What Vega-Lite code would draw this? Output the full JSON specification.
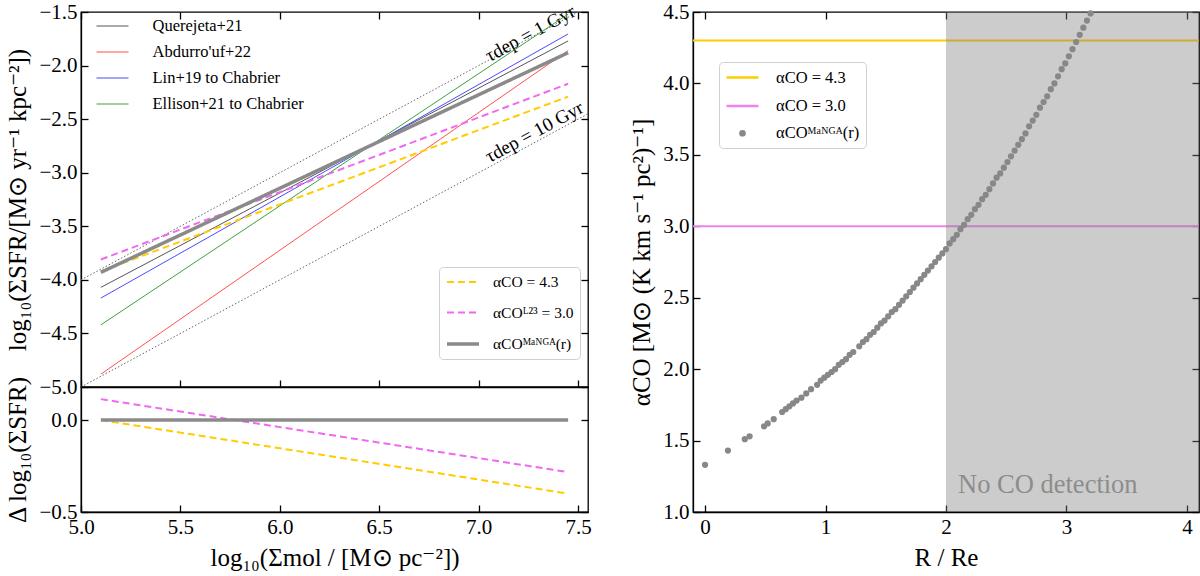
{
  "$schema": "https://vega.github.io/schema/vega-lite/v6.json",
  "background": "white",
  "padding": {"left": 5, "top": 0, "right": 0, "bottom": 0},
  "datasets": {
    "tau": [
      {"x": 5.0, "y": -4.0, "tau": "1 Gyr"},
      {"x": 7.55, "y": -1.45, "tau": "1 Gyr"},
      {"x": 5.0, "y": -5.0, "tau": "10 Gyr"},
      {"x": 7.55, "y": -2.45, "tau": "10 Gyr"}
    ],
    "taulabels": [
      {"x": 7.26, "y": -1.70, "label": "τdep = 1 Gyr"},
      {"x": 7.28, "y": -2.62, "label": "τdep = 10 Gyr"}
    ],
    "lit": [
      {"x": 5.1, "y": -4.07, "ref": "Querejeta+21"},
      {"x": 7.45, "y": -1.77, "ref": "Querejeta+21"},
      {"x": 5.1, "y": -4.88, "ref": "Abdurro'uf+22"},
      {"x": 7.45, "y": -1.86, "ref": "Abdurro'uf+22"},
      {"x": 5.1, "y": -4.17, "ref": "Lin+19 to Chabrier"},
      {"x": 7.45, "y": -1.705, "ref": "Lin+19 to Chabrier"},
      {"x": 5.1, "y": -4.42, "ref": "Ellison+21 to Chabrier"},
      {"x": 7.45, "y": -1.52, "ref": "Ellison+21 to Chabrier"}
    ],
    "models": [
      {"x": 5.1, "y": -3.92, "model": "αCO = 4.3"},
      {"x": 7.45, "y": -2.29, "model": "αCO = 4.3"},
      {"x": 5.1, "y": -3.81, "model": "αCOᴸ²³ = 3.0"},
      {"x": 7.45, "y": -2.17, "model": "αCOᴸ²³ = 3.0"},
      {"x": 5.1, "y": -3.93, "model": "αCOᴹᵃᴺᴳᴬ(r)"},
      {"x": 7.45, "y": -1.88, "model": "αCOᴹᵃᴺᴳᴬ(r)"}
    ],
    "resid": [
      {"x": 5.1, "y": 0.0, "model": "αCO = 4.3"},
      {"x": 7.45, "y": -0.40, "model": "αCO = 4.3"},
      {"x": 5.1, "y": 0.114, "model": "αCOᴸ²³ = 3.0"},
      {"x": 7.45, "y": -0.283, "model": "αCOᴸ²³ = 3.0"},
      {"x": 5.1, "y": 0.0, "model": "αCOᴹᵃᴺᴳᴬ(r)"},
      {"x": 7.45, "y": 0.0, "model": "αCOᴹᵃᴺᴳᴬ(r)"}
    ],
    "hlines": [
      {"alpha": 4.3, "series": "αCO = 4.3"},
      {"alpha": 3.0, "series": "αCO = 3.0"}
    ],
    "region": [
      {"x0": 2.0, "x1": 4.1, "y0": 1.0, "y1": 4.5}
    ],
    "nolabel": [
      {"r": 2.1, "a": 1.19, "label": "No CO detection"}
    ],
    "manga": [
      {"r": 0.0, "a": 1.33}, {"r": 0.19, "a": 1.43}, {"r": 0.33, "a": 1.51}, {"r": 0.37, "a": 1.53},
      {"r": 0.49, "a": 1.6}, {"r": 0.52, "a": 1.62}, {"r": 0.57, "a": 1.65}, {"r": 0.64, "a": 1.7},
      {"r": 0.67, "a": 1.72}, {"r": 0.7, "a": 1.74}, {"r": 0.73, "a": 1.76}, {"r": 0.76, "a": 1.78},
      {"r": 0.8, "a": 1.8}, {"r": 0.84, "a": 1.83}, {"r": 0.88, "a": 1.86}, {"r": 0.93, "a": 1.89},
      {"r": 0.96, "a": 1.92}, {"r": 0.99, "a": 1.94}, {"r": 1.02, "a": 1.96}, {"r": 1.05, "a": 1.98},
      {"r": 1.08, "a": 2.0}, {"r": 1.11, "a": 2.03}, {"r": 1.14, "a": 2.05}, {"r": 1.17, "a": 2.07},
      {"r": 1.2, "a": 2.1}, {"r": 1.23, "a": 2.12}, {"r": 1.28, "a": 2.16}, {"r": 1.31, "a": 2.19},
      {"r": 1.34, "a": 2.21}, {"r": 1.37, "a": 2.24}, {"r": 1.4, "a": 2.26}, {"r": 1.43, "a": 2.29},
      {"r": 1.46, "a": 2.32}, {"r": 1.49, "a": 2.34}, {"r": 1.52, "a": 2.37}, {"r": 1.55, "a": 2.4},
      {"r": 1.58, "a": 2.42}, {"r": 1.61, "a": 2.45}, {"r": 1.64, "a": 2.48}, {"r": 1.67, "a": 2.51},
      {"r": 1.7, "a": 2.54}, {"r": 1.73, "a": 2.57}, {"r": 1.76, "a": 2.6}, {"r": 1.79, "a": 2.63},
      {"r": 1.82, "a": 2.66}, {"r": 1.85, "a": 2.69}, {"r": 1.88, "a": 2.72}, {"r": 1.91, "a": 2.75},
      {"r": 1.94, "a": 2.78}, {"r": 1.97, "a": 2.81}, {"r": 2.0, "a": 2.84}, {"r": 2.03, "a": 2.88},
      {"r": 2.06, "a": 2.91}, {"r": 2.09, "a": 2.94}, {"r": 2.12, "a": 2.98}, {"r": 2.15, "a": 3.01},
      {"r": 2.18, "a": 3.05}, {"r": 2.21, "a": 3.08}, {"r": 2.24, "a": 3.12}, {"r": 2.27, "a": 3.15},
      {"r": 2.3, "a": 3.19}, {"r": 2.33, "a": 3.22}, {"r": 2.36, "a": 3.26}, {"r": 2.39, "a": 3.3},
      {"r": 2.42, "a": 3.34}, {"r": 2.45, "a": 3.37}, {"r": 2.48, "a": 3.41}, {"r": 2.51, "a": 3.45},
      {"r": 2.54, "a": 3.49}, {"r": 2.57, "a": 3.53}, {"r": 2.6, "a": 3.57}, {"r": 2.63, "a": 3.61},
      {"r": 2.66, "a": 3.65}, {"r": 2.69, "a": 3.7}, {"r": 2.72, "a": 3.74}, {"r": 2.75, "a": 3.78},
      {"r": 2.78, "a": 3.83}, {"r": 2.81, "a": 3.87}, {"r": 2.84, "a": 3.91}, {"r": 2.87, "a": 3.96},
      {"r": 2.9, "a": 4.0}, {"r": 2.93, "a": 4.05}, {"r": 2.96, "a": 4.1}, {"r": 2.99, "a": 4.14},
      {"r": 3.02, "a": 4.19}, {"r": 3.05, "a": 4.24}, {"r": 3.08, "a": 4.29}, {"r": 3.11, "a": 4.34},
      {"r": 3.14, "a": 4.39}, {"r": 3.17, "a": 4.44}, {"r": 3.2, "a": 4.49}
    ]
  },
  "config": {
    "font": "Liberation Serif",
    "view": {"stroke": "black", "strokeWidth": 1.3},
    "axis": {
      "labelFont": "Liberation Serif", "labelFontSize": 21, "labelColor": "black",
      "titleFont": "Liberation Serif", "titleFontSize": 25, "titleFontWeight": "normal", "titleColor": "black",
      "domainColor": "black", "domainWidth": 1.3, "tickColor": "black", "tickWidth": 1.3,
      "tickSize": -7, "labelPadding": 11, "grid": false, "labelFlush": false, "labelOverlap": false, "titlePadding": 8
    },
    "legend": {
      "labelFont": "Liberation Serif", "labelFontSize": 16.5, "labelColor": "black", "labelLimit": 400
    }
  },
  "hconcat": [
    {
      "vconcat": [
        {
          "width": 507,
          "height": 375,
          "layer": [
            {
              "data": {"name": "tau"},
              "mark": {"type": "line", "color": "#666666", "strokeDash": [1.5, 2], "strokeWidth": 1, "clip": true},
              "encoding": {
                "x": {"field": "x", "type": "quantitative", "scale": {"domain": [5.0, 7.55], "nice": false, "zero": false},
                      "axis": {"values": [5.0, 5.5, 6.0, 6.5, 7.0, 7.5], "labels": false, "title": null, "minExtent": 0, "maxExtent": 0}},
                "y": {"field": "y", "type": "quantitative", "scale": {"domain": [-5.0, -1.5], "nice": false, "zero": false},
                      "axis": {"values": [-5.0, -4.5, -4.0, -3.5, -3.0, -2.5, -2.0, -1.5], "format": ".1f",
                               "title": "log₁₀(ΣSFR/[M⊙ yr⁻¹ kpc⁻²])"}},
                "detail": {"field": "tau", "type": "nominal"}
              }
            },
            {
              "data": {"name": "taulabels"},
              "mark": {"type": "text", "angle": 331.6, "fontSize": 19, "font": "Liberation Serif", "color": "black", "baseline": "middle"},
              "encoding": {
                "x": {"field": "x", "type": "quantitative", "axis": null},
                "y": {"field": "y", "type": "quantitative", "axis": null},
                "text": {"field": "label"}
              }
            },
            {
              "data": {"name": "lit"},
              "mark": {"type": "line", "strokeWidth": 1, "clip": true},
              "encoding": {
                "x": {"field": "x", "type": "quantitative", "axis": null},
                "y": {"field": "y", "type": "quantitative", "axis": null},
                "color": {"field": "ref", "type": "nominal",
                  "scale": {"domain": ["Querejeta+21", "Abdurro'uf+22", "Lin+19 to Chabrier", "Ellison+21 to Chabrier"],
                            "range": ["#555555", "#ff5050", "#4a4aff", "#3fa03f"]},
                  "legend": {"title": null, "orient": "none", "legendX": 14, "legendY": 5, "padding": 0,
                             "symbolType": "M-2,0H2", "symbolSize": 256, "symbolOffset": 8.5, "labelOffset": 31,
                             "rowPadding": 8, "symbolStrokeWidth": 1.2}}
              }
            },
            {
              "data": {"name": "models"},
              "mark": {"type": "line", "clip": true},
              "encoding": {
                "x": {"field": "x", "type": "quantitative", "axis": null},
                "y": {"field": "y", "type": "quantitative", "axis": null},
                "stroke": {"field": "model", "type": "nominal",
                  "scale": {"domain": ["αCO = 4.3", "αCOᴸ²³ = 3.0", "αCOᴹᵃᴺᴳᴬ(r)"], "range": ["#ffcc00", "#ee6aee", "#8a8a8a"]},
                  "legend": {"title": null, "orient": "none", "legendX": 358, "legendY": 255, "padding": 6,
                             "strokeColor": "#d0d0d0", "fillColor": "white", "cornerRadius": 4, "labelFontSize": 15.5,
                             "symbolType": "M-2,0H2", "symbolSize": 256, "symbolOffset": 8, "labelOffset": 20,
                             "rowPadding": 12.5}},
                "strokeDash": {"field": "model", "type": "nominal",
                  "scale": {"domain": ["αCO = 4.3", "αCOᴸ²³ = 3.0", "αCOᴹᵃᴺᴳᴬ(r)"], "range": [[7, 4], [7, 4], [1, 0]]},
                  "legend": {"title": null, "orient": "none", "legendX": 358, "legendY": 255, "padding": 6,
                             "strokeColor": "#d0d0d0", "fillColor": "white", "cornerRadius": 4, "labelFontSize": 15.5,
                             "symbolType": "M-2,0H2", "symbolSize": 256, "symbolOffset": 8, "labelOffset": 20,
                             "rowPadding": 12.5}},
                "strokeWidth": {"field": "model", "type": "nominal",
                  "scale": {"type": "ordinal", "domain": ["αCO = 4.3", "αCOᴸ²³ = 3.0", "αCOᴹᵃᴺᴳᴬ(r)"], "range": [2, 2, 3.5]},
                  "legend": {"title": null, "orient": "none", "legendX": 358, "legendY": 255, "padding": 6,
                             "strokeColor": "#d0d0d0", "fillColor": "white", "cornerRadius": 4, "labelFontSize": 15.5,
                             "symbolType": "M-2,0H2", "symbolSize": 256, "symbolOffset": 8, "labelOffset": 20,
                             "rowPadding": 12.5}}
              }
            },
            {
              "data": {"name": "tau"},
              "mark": {"type": "point", "opacity": 0},
              "encoding": {
                "x": {"field": "x", "type": "quantitative",
                      "axis": {"orient": "top", "values": [5.0, 5.5, 6.0, 6.5, 7.0, 7.5], "labels": false, "title": null, "domain": false}},
                "y": {"field": "y", "type": "quantitative",
                      "axis": {"orient": "right", "values": [-5.0, -4.5, -4.0, -3.5, -3.0, -2.5, -2.0, -1.5], "labels": false, "title": null, "domain": false}}
              }
            }
          ],
          "resolve": {"axis": {"x": "independent", "y": "independent"}}
        },
        {
          "width": 507,
          "height": 125,
          "layer": [
            {
              "data": {"name": "resid"},
              "mark": {"type": "line", "clip": true},
              "encoding": {
                "x": {"field": "x", "type": "quantitative", "scale": {"domain": [5.0, 7.55], "nice": false, "zero": false},
                      "axis": {"values": [5.0, 5.5, 6.0, 6.5, 7.0, 7.5], "format": ".1f", "title": "log₁₀(Σmol / [M⊙  pc⁻²])"}},
                "y": {"field": "y", "type": "quantitative", "scale": {"domain": [-0.5, 0.18], "nice": false, "zero": false},
                      "axis": {"values": [-0.5, 0.0], "format": ".1f", "title": "Δ log₁₀(ΣSFR)"}},
                "stroke": {"field": "model", "type": "nominal",
                  "scale": {"domain": ["αCO = 4.3", "αCOᴸ²³ = 3.0", "αCOᴹᵃᴺᴳᴬ(r)"], "range": ["#ffcc00", "#ee6aee", "#8a8a8a"]},
                  "legend": null},
                "strokeDash": {"field": "model", "type": "nominal",
                  "scale": {"domain": ["αCO = 4.3", "αCOᴸ²³ = 3.0", "αCOᴹᵃᴺᴳᴬ(r)"], "range": [[7, 4], [7, 4], [1, 0]]},
                  "legend": null},
                "strokeWidth": {"field": "model", "type": "nominal",
                  "scale": {"type": "ordinal", "domain": ["αCO = 4.3", "αCOᴸ²³ = 3.0", "αCOᴹᵃᴺᴳᴬ(r)"], "range": [2, 2, 3.5]},
                  "legend": null}
              }
            },
            {
              "data": {"name": "resid"},
              "mark": {"type": "point", "opacity": 0},
              "encoding": {
                "x": {"field": "x", "type": "quantitative", "axis": null},
                "y": {"field": "y", "type": "quantitative",
                      "axis": {"orient": "right", "values": [-0.5, 0.0], "labels": false, "title": null, "domain": false}}
              }
            }
          ],
          "resolve": {"axis": {"x": "independent", "y": "independent"}}
        }
      ],
      "spacing": 0,
      "bounds": "flush",
      "resolve": {"scale": {"stroke": "independent", "strokeDash": "independent", "strokeWidth": "independent", "x": "shared"}}
    },
    {
      "width": 506,
      "height": 500,
      "layer": [
        {
          "data": {"name": "hlines"},
          "mark": {"type": "rule", "strokeWidth": 2},
          "encoding": {
            "y": {"field": "alpha", "type": "quantitative", "scale": {"domain": [1.0, 4.5], "nice": false, "zero": false},
                  "axis": {"values": [1.0, 1.5, 2.0, 2.5, 3.0, 3.5, 4.0, 4.5], "format": ".1f",
                           "title": "αCO [M⊙ (K km s⁻¹ pc²)⁻¹]"}},
            "color": {"field": "series", "type": "nominal",
              "scale": {"domain": ["αCO = 4.3", "αCO = 3.0", "αCOᴹᵃᴺᴳᴬ(r)"], "range": ["#ffcc00", "#ee82ee", "#888888"]},
              "legend": {"title": null, "orient": "none", "legendX": 26, "legendY": 50, "padding": 6,
                         "strokeColor": "#d0d0d0", "fillColor": "white", "cornerRadius": 4,
                         "symbolOffset": 8, "labelOffset": 24, "rowPadding": 10.5, "symbolStrokeWidth": 2.5}}
          }
        },
        {
          "data": {"name": "region"},
          "mark": {"type": "rect", "color": "#808080", "opacity": 0.4},
          "encoding": {
            "x": {"field": "x0", "type": "quantitative", "scale": {"domain": [-0.1, 4.1], "nice": false, "zero": false},
                  "axis": {"values": [0, 1, 2, 3, 4], "format": "d", "title": "R / Re"}},
            "x2": {"field": "x1"},
            "y": {"field": "y0", "type": "quantitative", "axis": null},
            "y2": {"field": "y1"}
          }
        },
        {
          "data": {"name": "manga"},
          "mark": {"type": "point", "filled": false, "fill": "#888888", "opacity": 1},
          "encoding": {
            "x": {"field": "r", "type": "quantitative", "axis": null},
            "y": {"field": "a", "type": "quantitative", "axis": null},
            "color": {"datum": "αCOᴹᵃᴺᴳᴬ(r)", "type": "nominal"},
            "shape": {"datum": "αCOᴹᵃᴺᴳᴬ(r)", "type": "nominal",
              "scale": {"domain": ["αCO = 4.3", "αCO = 3.0", "αCOᴹᵃᴺᴳᴬ(r)"], "range": ["M-2,0H2", "M-2,0H2", "circle"]}},
            "size": {"datum": "αCOᴹᵃᴺᴳᴬ(r)", "type": "nominal",
              "scale": {"type": "ordinal", "domain": ["αCO = 4.3", "αCO = 3.0", "αCOᴹᵃᴺᴳᴬ(r)"], "range": [256, 256, 18]}}
          }
        },
        {
          "data": {"name": "nolabel"},
          "mark": {"type": "text", "align": "left", "baseline": "middle", "fontSize": 26.5, "font": "Liberation Serif", "color": "#8c8c8c"},
          "encoding": {
            "x": {"field": "r", "type": "quantitative", "axis": null},
            "y": {"field": "a", "type": "quantitative", "axis": null},
            "text": {"field": "label"}
          }
        },
        {
          "data": {"name": "region"},
          "mark": {"type": "point", "opacity": 0},
          "encoding": {
            "x": {"field": "x0", "type": "quantitative",
                  "axis": {"orient": "top", "values": [0, 1, 2, 3, 4], "labels": false, "title": null, "domain": false}},
            "y": {"field": "y0", "type": "quantitative",
                  "axis": {"orient": "right", "values": [1.0, 1.5, 2.0, 2.5, 3.0, 3.5, 4.0, 4.5], "labels": false, "title": null, "domain": false}}
          }
        }
      ],
      "resolve": {"axis": {"x": "independent", "y": "independent"}}
    }
  ],
  "spacing": 37,
  "resolve": {"scale": {"color": "independent", "stroke": "independent", "strokeDash": "independent", "strokeWidth": "independent", "shape": "independent", "size": "independent"}}
}
